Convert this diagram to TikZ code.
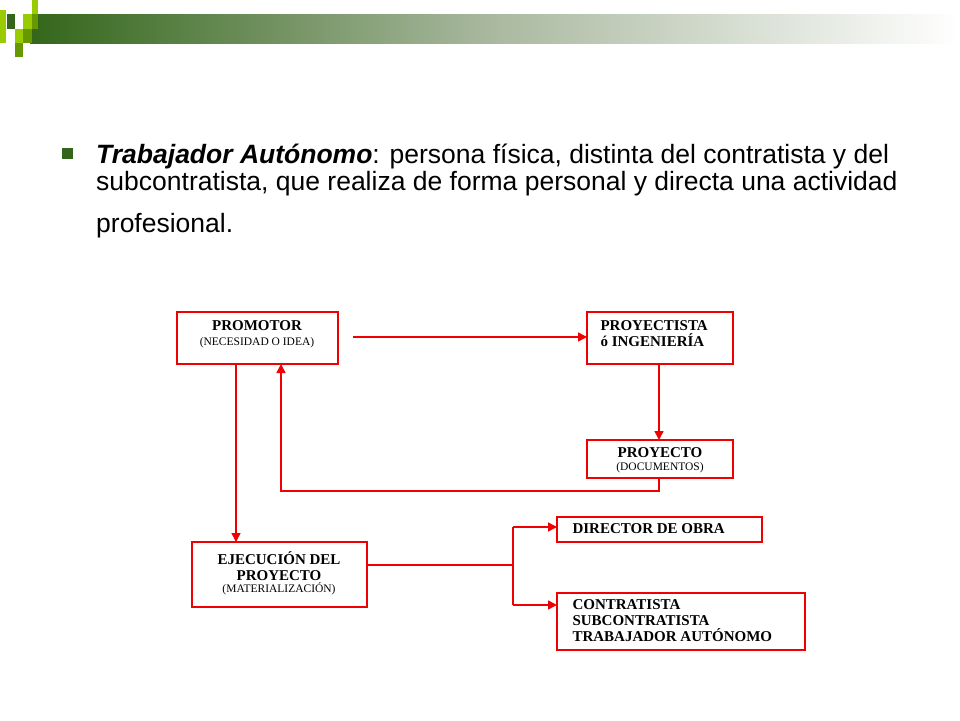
\documentclass[tikz,border=0pt]{standalone}
\usepackage{fontspec}
\setmainfont{Liberation Serif}
\newfontfamily\arial{Liberation Sans}
\usetikzlibrary{arrows.meta}
\definecolor{dgreen}{RGB}{51,102,26}
\definecolor{lgreen}{RGB}{153,204,0}
\definecolor{mgreen}{RGB}{102,153,0}
\definecolor{bred}{RGB}{240,0,0}
\begin{document}
\begin{tikzpicture}[x=1pt,y=-1pt,
  box/.style={draw=bred,line width=1.5pt,inner sep=0},
  conn/.style={color=bred,line width=1.5pt},
  arr/.style={conn,-{Triangle[length=9pt,width=9pt]}},
  bt/.style={font=\fontsize{15}{16}\selectfont\bfseries,align=left},
  st/.style={font=\fontsize{11.5}{12}\selectfont,align=center}]
\useasboundingbox (0,0) rectangle (960,720);
% header
\shade[left color=dgreen,right color=white,middle color={rgb,255:red,170;green,185;blue,160}] (30,14) rectangle (960,43);
\fill[lgreen] (0,10) rectangle (6,43);
\fill[lgreen] (32,0) rectangle (38,14);
\fill[dgreen] (7,14) rectangle (15,29);
\fill[lgreen] (23,14) rectangle (32,29);
\fill[mgreen] (32,14) rectangle (38,29);
\fill[lgreen] (15,29) rectangle (23,43);
\fill[mgreen] (23,29) rectangle (32,43);
\fill[mgreen] (15,43) rectangle (23,57);
% bullet text
\fill[dgreen] (62,148) rectangle (73,159);
\tikzset{body/.style={anchor=base west,inner sep=0,font=\arial\fontsize{26.5}{28}\selectfont}}
\node[body] (l1) at (96,163) {\textbf{\textit{Trabajador Autónomo}}: persona física, distinta del contratista y del};
\node[body] (l2) at (96,190) {subcontratista, que realiza de forma personal y directa una actividad};
\node[body] (l3) at (96,232) {profesional.};
% boxes
\draw[box] (177,312) rectangle (338,364);
\node[bt] (prom) at (257,326) {PROMOTOR};
\node[st] at (257,343) {(NECESIDAD O IDEA)};
\coordinate (promR) at (353,337);
\draw[box] (587,312) rectangle (733,364);
\node[bt,anchor=west] (proy) at (597,334) {PROYECTISTA\\ó INGENIERÍA};
\draw[box] (587,440) rectangle (733,478);
\node[bt] (pto) at (660,453) {PROYECTO};
\node[st] at (660,468) {(DOCUMENTOS)};
\draw[box] (192,542) rectangle (367,607);
\node[bt,align=center] (ejec) at (279,566) {EJECUCIÓN DEL\\PROYECTO};
\node[st] at (279,589) {(MATERIALIZACIÓN)};
\draw[box] (557,517) rectangle (762,542);
\node[bt,anchor=west] (dir) at (569,529) {DIRECTOR DE OBRA};
\draw[box] (557,593) rectangle (805,650);
\node[bt,anchor=west] (con) at (569,621) {CONTRATISTA\\SUBCONTRATISTA\\TRABAJADOR AUTÓNOMO};
% connectors
\coordinate (a1) at (587,337);
\draw[arr] (promR) -- (a1);
\coordinate (b0) at (659,364); \coordinate (b1) at (659,440);
\draw[arr] (b0) -- (b1);
\coordinate (c0) at (659,478); \coordinate (c1) at (281,364);
\draw[arr] (c0) -- (659,491) -- (281,491) -- (c1);
\coordinate (d0) at (236,364); \coordinate (d1) at (236,542);
\draw[arr] (d0) -- (d1);
\coordinate (e0) at (367,565); \coordinate (e1) at (513,565);
\draw[conn] (e0) -- (e1);
\coordinate (f0) at (513,527); \coordinate (f1) at (513,605);
\draw[conn] (f0) -- (f1);
\coordinate (g1) at (557,527); \coordinate (h1) at (557,605);
\draw[arr] (f0) -- (g1);
\draw[arr] (f1) -- (h1);
\end{tikzpicture}
\end{document}
